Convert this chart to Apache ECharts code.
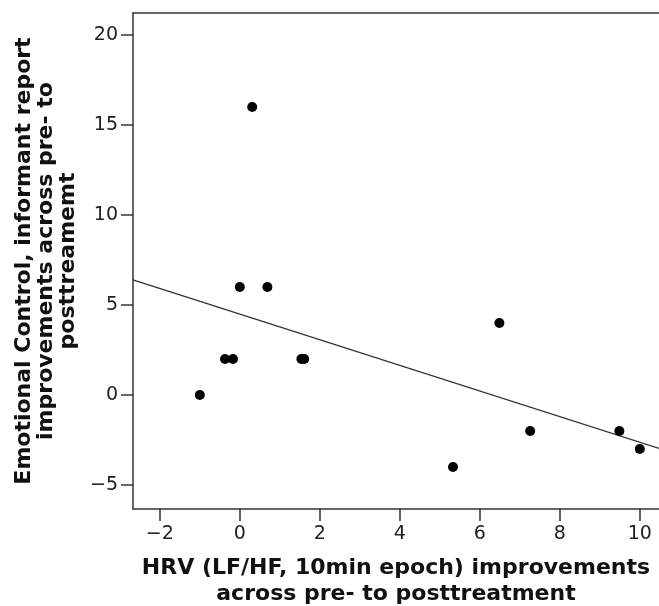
<!DOCTYPE html>
<html>
<head>
<meta charset="utf-8">
<script src="https://cdn.jsdelivr.net/npm/echarts@6/dist/echarts.min.js"></script>
<style>
  html, body { margin: 0; padding: 0; background: #fff; }
  #chart { width: 659px; height: 606px; }
</style>
</head>
<body>
<div id="chart"></div>
<script>
// HRV 改善值（横轴）
var hrvChange = [-1.0, -0.37, -0.17, 0.0, 0.31, 0.69, 1.54, 1.61, 5.33, 6.49, 7.26, 9.49, 10.0]
// 情绪控制改善值（纵轴）
var emotionChange = [0, 2, 2, 6, 16, 6, 2, 2, -4, 4, -2, -2, -3]
// 拟合线两端
var fitX = [-2.67, 10.48]
var fitY = [6.4, -2.96]
// 刻度
var xTicks = [-2, 0, 2, 4, 6, 8, 10]
var yTicks = [-5, 0, 5, 10, 15, 20]

var xMin = -2.67, xMax = 10.48
var yMin = -6.33, yMax = 21.22

var axisColor = '#333'
var fontFamily = 'DejaVu Sans'

var points = hrvChange.map(function (x, i) {
    return [x, emotionChange[i]]
})
var fitLine = fitX.map(function (x, i) {
    return [x, fitY[i]]
})

// 负号用长横线
function tickFormatter(val) {
    return String(val).replace('-', '\u2212')
}

var myChart = echarts.init(document.getElementById('chart'))
myChart.setOption({
    animation: false,
    backgroundColor: '#fff',
    grid: {
        left: 133,
        right: 0,
        top: 13,
        bottom: 97,
        containLabel: false,
        outerBoundsMode: 'none'
    },
    xAxis: [{
        type: 'value',
        min: xMin,
        max: xMax,
        name: 'HRV (LF/HF, 10min epoch) improvements\nacross pre- to posttreatment',
        nameLocation: 'middle',
        nameGap: 46,
        nameTextStyle: {
            fontFamily: fontFamily,
            fontWeight: 'bold',
            fontSize: 22,
            lineHeight: 26,
            color: '#111'
        },
        axisLine: { show: true, onZero: false, lineStyle: { color: axisColor, width: 1.5 } },
        axisTick: { show: true, length: 12, customValues: xTicks, lineStyle: { color: axisColor, width: 1.5 } },
        axisLabel: {
            customValues: xTicks,
            formatter: tickFormatter,
            margin: 16,
            fontFamily: fontFamily,
            fontSize: 19,
            color: '#222'
        },
        splitLine: { show: false }
    }, {
        // 顶部边框
        type: 'value',
        position: 'top',
        min: xMin,
        max: xMax,
        axisLine: { show: true, onZero: false, lineStyle: { color: axisColor, width: 1.5 } },
        axisTick: { show: false },
        axisLabel: { show: false },
        splitLine: { show: false }
    }],
    yAxis: {
        type: 'value',
        min: yMin,
        max: yMax,
        name: 'Emotional Control, informant report\nimprovements across pre- to\nposttreamemt',
        nameLocation: 'middle',
        nameGap: 51,
        nameRotate: 90,
        nameTextStyle: {
            fontFamily: fontFamily,
            fontWeight: 'bold',
            fontSize: 22,
            lineHeight: 22,
            color: '#111'
        },
        axisLine: { show: true, onZero: false, lineStyle: { color: axisColor, width: 1.5 } },
        axisTick: { show: true, length: 12, customValues: yTicks, lineStyle: { color: axisColor, width: 1.5 } },
        axisLabel: {
            customValues: yTicks,
            formatter: tickFormatter,
            margin: 15,
            fontFamily: fontFamily,
            fontSize: 19,
            color: '#222'
        },
        splitLine: { show: false }
    },
    series: [{
        type: 'line',
        data: fitLine,
        symbol: 'none',
        silent: true,
        lineStyle: { color: '#333', width: 1.3 },
        z: 1
    }, {
        type: 'scatter',
        data: points,
        symbol: 'circle',
        symbolSize: 10,
        itemStyle: { color: '#000', opacity: 1 },
        z: 2
    }]
})
</script>
</body>
</html>
